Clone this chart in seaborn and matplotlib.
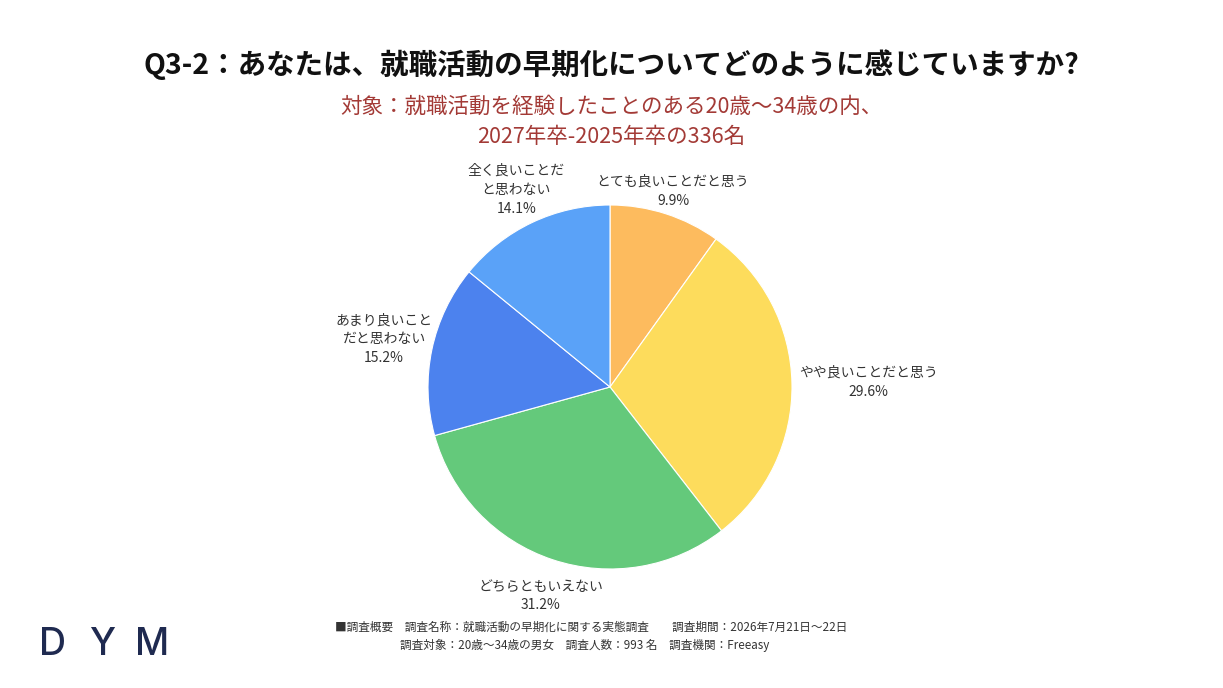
import numpy as np
import seaborn as sns
import matplotlib.pyplot as plt

# Data
labels = ['とても良いことだと思う', 'やや良いことだと思う', 'どちらともいえない',
          'あまり良いこと\nだと思わない', '全く良いことだ\nと思わない']
shares = [9.9, 29.6, 31.2, 15.2, 14.1]
colors = ['#FDBB5E', '#FDDC5C', '#64C97B', '#4C82EE', '#5AA2F8']

sns.set_theme(style='white')
plt.rcParams['font.family'] = ['Noto Sans CJK JP', 'DejaVu Sans']

W, H = 1223, 688
fig = plt.figure(figsize=(W / 100, H / 100), dpi=100)
fig.patch.set_facecolor('white')

# pie axes: center (610, 387), radius ~182 px
cx, cy, r = 610, 387, 182
ax = fig.add_axes([(cx - r) / W, (H - cy - r) / H, 2 * r / W, 2 * r / H])
wedges, _ = ax.pie(shares, colors=colors, startangle=90, counterclock=False,
                   wedgeprops=dict(edgecolor='white', linewidth=0.8))
ax.set_xlim(-1, 1)
ax.set_ylim(-1, 1)
ax.set_aspect('equal')

# label placement per wedge (distance factor)
label_dist = [1.13, 1.42, 1.21, 1.27, 1.2]
for w, lab, s, d in zip(wedges, labels, shares, label_dist):
    ang = np.deg2rad((w.theta1 + w.theta2) / 2)
    x, y = d * np.cos(ang), d * np.sin(ang)
    ax.text(x, y, f'{lab}\n{s:.1f}%', ha='center', va='center', fontsize=10,
            color='#333333', linespacing=1.45, clip_on=False)

fig.text(0.5, 1 - 65 / H, 'Q3-2：あなたは、就職活動の早期化についてどのように感じていますか?',
         ha='center', va='center', fontsize=20.5, fontweight='bold', color='#111111')
fig.text(0.5, 1 - 122 / H, '対象：就職活動を経験したことのある20歳〜34歳の内、\n2027年卒-2025年卒の336名',
         ha='center', va='center', fontsize=15.5, color='#A33A36', linespacing=1.5)

fig.text(335 / W, 1 - 627 / H,
         '■調査概要　調査名称：就職活動の早期化に関する実態調査　　調査期間：2026年7月21日〜22日',
         ha='left', va='center', fontsize=8.4, color='#333333')
fig.text(400 / W, 1 - 645 / H,
         '調査対象：20歳〜34歳の男女　調査人数：993 名　調査機関：Freeasy',
         ha='left', va='center', fontsize=8.4, color='#333333')

for i, ch in enumerate('DYM'):
    fig.text((52 + 50 * i) / W, 1 - 645 / H, ch, ha='center', va='center', fontsize=27,
             fontweight='medium', color='#1F2A50', family=['Inter', 'DejaVu Sans'])

fig.savefig('out.png', dpi=100, facecolor='white')
